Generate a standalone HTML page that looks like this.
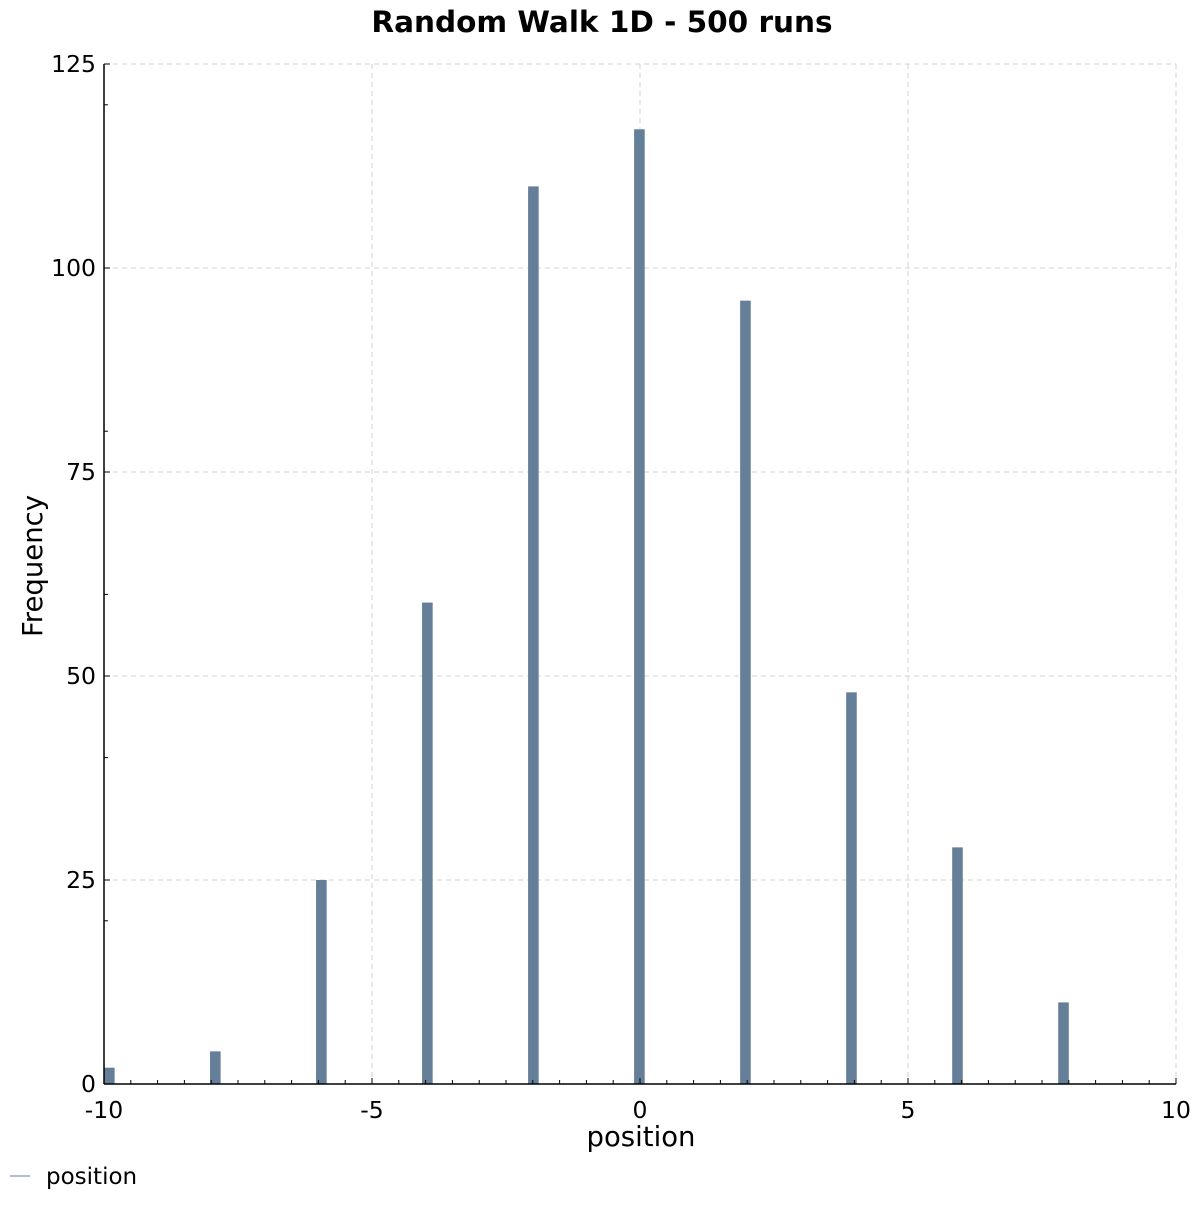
<!DOCTYPE html>
<html><head><meta charset="utf-8"><style>
html,body{margin:0;padding:0;background:#fff;}
svg text{font-family:"DejaVu Sans","Liberation Sans",sans-serif;}
</style></head><body>
<svg id="chart" width="1200" height="1200" xmlns="http://www.w3.org/2000/svg">
<text x="602" y="32" text-anchor="middle" font-size="29.5" font-weight="bold">Random Walk 1D - 500 runs</text>
<g id="grid"></g><g id="bars"></g><g id="axes"></g>
<text x="641" y="1146" text-anchor="middle" font-size="27.5">position</text>
<text transform="translate(42,566) rotate(-90)" text-anchor="middle" font-size="27.5">Frequency</text>
<g>
<line x1="10" y1="1176" x2="30" y2="1176" stroke="#667f99" stroke-width="1"/>
<text x="46" y="1184" font-size="23">position</text>
</g>
</svg>
<script>
const positions=[-10,-8,-6,-4,-2,0,2,4,6,8];
const frequencies=[2,4,25,59,110,117,96,48,29,10];
const xTicks=[-10,-5,0,5,10];
const yTicks=[0,25,50,75,100,125];
const NS="http://www.w3.org/2000/svg";
const L=104,R=1176,T=64,B=1084;
const xs=v=>L+(v+10)/20*(R-L);
const ys=v=>B-v/125*(B-T);
function mk(tag,attrs,parent){const e=document.createElementNS(NS,tag);for(const k in attrs)e.setAttribute(k,attrs[k]);document.getElementById(parent).appendChild(e);return e;}
xTicks.forEach(t=>{
 const g=mk('line',{x1:xs(t),x2:xs(t),y1:T,y2:B,stroke:'#d0d0d0','stroke-dasharray':'5,4'},'grid');
 
 
 const tx=mk('text',{x:xs(t),y:B+34,'text-anchor':'middle','font-size':'23.5'},'axes');tx.textContent=t;
 
 
});
yTicks.forEach(t=>{
 const g=mk('line',{x1:L,x2:R,y1:ys(t),y2:ys(t),stroke:'#d0d0d0','stroke-dasharray':'5,4'},'grid');
 
 
 const tx=mk('text',{x:L-8,y:ys(t)+8,'text-anchor':'end','font-size':'23.5'},'axes');tx.textContent=t;
 
 
});
const pmin=Math.min(...positions),pmax=Math.max(...positions),nb=91,bw=(pmax-pmin)/nb;
positions.forEach((p,i)=>{
 let k=Math.floor((p-pmin)/bw+1e-9);if(k>=nb)k=nb-1;
 const x0=xs(pmin+k*bw),x1=xs(pmin+(k+1)*bw);
 const r=mk('rect',{x:x0,y:ys(frequencies[i]),width:x1-x0,height:B-ys(frequencies[i]),fill:'#667f99'},'bars');
 
 
});
for(let v=-10;v<=10;v+=0.5){mk('line',{x1:xs(v),x2:xs(v),y1:B,y2:B-(v%5===0?6:4),stroke:'#000'},'axes');}
for(let v=0;v<=125;v+=20){mk('line',{x1:L,x2:L+4,y1:ys(v),y2:ys(v),stroke:'#000'},'axes');}
for(let v=0;v<=125;v+=25){mk('line',{x1:L,x2:L+6,y1:ys(v),y2:ys(v),stroke:'#000'},'axes');}
const ax=mk('line',{x1:L,x2:R,y1:B,y2:B,stroke:'#000','stroke-width':'1.5'},'axes');


const ay=mk('line',{x1:L,x2:L,y1:T,y2:B,stroke:'#000','stroke-width':'1.5'},'axes');


</script>
</body></html>
